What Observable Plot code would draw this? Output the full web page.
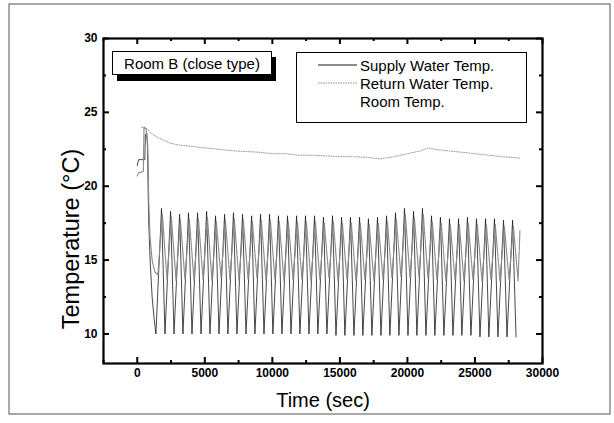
<!DOCTYPE html>
<html><head><meta charset="utf-8">
<script src="https://cdn.jsdelivr.net/npm/d3@7"></script>
<script src="https://cdn.jsdelivr.net/npm/@observablehq/plot@0.6"></script>
<style>body{margin:0;background:#fff;} #chart{position:relative;width:614px;height:423px;}</style>
</head><body><div id="chart"></div>
<script>
// ---- data ----
const xMajorTicks = [0, 5000, 10000, 15000, 20000, 25000, 30000];
const xMinorTicks = [-2500, 2500, 7500, 12500, 17500, 22500, 27500];
const yMajorTicks = [10, 15, 20, 25, 30];
const yMinorTicks = [12.5, 17.5, 22.5, 27.5];

// Supply water: start-up segment
const supplyStartT = [0, 100, 560, 600, 700, 760, 800, 850, 950, 1100, 1250];
const supplyStartV = [21.4, 21.8, 21.8, 23.5, 23.6, 22.6, 20.0, 17.5, 15.0, 12.5, 11.0];
// Supply water: cycle troughs and peaks
const supplyTroughT = [1380, 2050, 2720, 3380, 4050, 4720, 5380, 6050, 6710, 7380, 8050, 8710, 9380, 10040, 10710, 11380, 12040, 12710, 13370, 14040, 14710, 15370, 16040, 16700, 17370, 18040, 18700, 19370, 20040, 20700, 21370, 22030, 22700, 23370, 24030, 24700, 25370, 26030, 26700, 27370, 28040];
const supplyTroughV = [10.0, 10.0, 10.0, 10.0, 10.0, 10.0, 10.0, 10.0, 10.0, 10.0, 10.0, 10.0, 10.0, 10.0, 10.0, 10.0, 10.0, 10.0, 10.0, 10.0, 9.9, 9.9, 9.9, 9.9, 9.9, 9.9, 9.9, 9.9, 9.9, 9.9, 9.9, 9.9, 9.9, 9.9, 9.9, 9.9, 9.8, 9.8, 9.8, 9.8, 9.8];
const supplyPeakT = [1795, 2465, 3135, 3795, 4465, 5135, 5795, 6465, 7125, 7795, 8465, 9125, 9795, 10455, 11125, 11795, 12455, 13125, 13785, 14455, 15125, 15785, 16455, 17115, 17785, 18455, 19115, 19785, 20455, 21115, 21785, 22445, 23115, 23785, 24445, 25115, 25785, 26445, 27115, 27785];
const supplyPeakV = [18.5, 18.3, 18.1, 18.2, 18.2, 18.3, 18.0, 18.1, 18.2, 18.1, 18.0, 18.1, 18.1, 18.0, 18.0, 18.0, 18.0, 18.0, 17.9, 18.0, 17.9, 17.9, 17.9, 17.8, 17.9, 18.0, 18.2, 18.5, 18.3, 18.5, 18.0, 17.9, 17.8, 17.8, 17.9, 17.8, 17.8, 17.8, 17.7, 17.7];

// Return water: start-up segment
const returnStartT = [0, 100, 450, 500, 650, 760, 800, 850, 950, 1100, 1300];
const returnStartV = [20.7, 20.9, 21.0, 24.0, 23.9, 23.0, 22.0, 19.0, 16.5, 15.0, 14.2];
// Return water: cycle minima and maxima
const returnMinT = [1530, 2200, 2870, 3530, 4200, 4870, 5530, 6200, 6860, 7530, 8200, 8860, 9530, 10190, 10860, 11530, 12190, 12860, 13520, 14190, 14860, 15520, 16190, 16850, 17520, 18190, 18850, 19520, 20190, 20850, 21520, 22180, 22850, 23520, 24180, 24850, 25520, 26180, 26850, 27520, 28190];
const returnMinV = [14.0, 13.7, 13.6, 13.7, 13.6, 13.7, 13.6, 13.8, 13.7, 13.6, 13.7, 13.8, 13.6, 13.7, 13.6, 13.7, 13.7, 13.6, 13.7, 13.8, 13.6, 13.7, 13.6, 13.7, 13.6, 13.7, 13.8, 13.9, 13.8, 13.9, 13.8, 13.7, 13.6, 13.7, 13.6, 13.7, 13.6, 13.7, 13.6, 13.7, 13.6];
const returnMaxT = [1855, 2525, 3195, 3855, 4525, 5195, 5855, 6525, 7185, 7855, 8525, 9185, 9855, 10515, 11185, 11855, 12515, 13185, 13845, 14515, 15185, 15845, 16515, 17175, 17845, 18515, 19175, 19845, 20515, 21175, 21845, 22505, 23175, 23845, 24505, 25175, 25845, 26505, 27175, 27845, 28330];
const returnMaxV = [18.1, 17.9, 17.7, 17.8, 17.8, 17.9, 17.6, 17.7, 17.8, 17.7, 17.6, 17.7, 17.7, 17.6, 17.6, 17.6, 17.6, 17.6, 17.5, 17.6, 17.5, 17.5, 17.5, 17.4, 17.5, 17.6, 17.8, 18.1, 17.9, 18.1, 17.6, 17.5, 17.4, 17.4, 17.5, 17.4, 17.4, 17.4, 17.3, 17.3, 17.0];

// Room temperature
const roomT = [300, 700, 1000, 1500, 2000, 2500, 3000, 4000, 5000, 6000, 7000, 8000, 9000, 10000, 11000, 12000, 13000, 14000, 15000, 16000, 17000, 18000, 19000, 20000, 21000, 21500, 22000, 23000, 24000, 25000, 26000, 27000, 28400];
const roomV = [24.0, 23.9, 23.6, 23.3, 23.1, 22.9, 22.8, 22.7, 22.6, 22.5, 22.4, 22.35, 22.3, 22.2, 22.2, 22.1, 22.1, 22.05, 22.0, 22.0, 21.95, 21.85, 22.0, 22.2, 22.4, 22.6, 22.5, 22.4, 22.3, 22.2, 22.1, 22.0, 21.9];

const seriesNames = ["Supply Water Temp.", "Return Water Temp.", "Room Temp."];
const boxTitle = "Room B (close type)";

// ---- build tables ----
const zip = (ts, vs) => ts.map((t, i) => ({t, v: vs[i]}));
const byT = (a, b) => a.t - b.t;
const supplyData = [...zip(supplyStartT, supplyStartV), ...zip(supplyTroughT, supplyTroughV), ...zip(supplyPeakT, supplyPeakV)].sort(byT);
const returnData = [...zip(returnStartT, returnStartV), ...zip(returnMinT, returnMinV), ...zip(returnMaxT, returnMaxV)].sort(byT);
const roomData = zip(roomT, roomV);

const W = 614, H = 423, mL = 103, mR = 72, mT = 38, mB = 60;
const innerW = W - mL - mR, innerH = H - mT - mB;
const font = "'Liberation Sans', Arial, Helvetica, sans-serif";
const returnColor = "#8a8a8a";

const plot = Plot.plot({
  width: W, height: H,
  marginLeft: mL, marginRight: mR, marginTop: mT, marginBottom: mB,
  style: {fontFamily: font, background: "#fff", overflow: "visible", color: "#000"},
  x: {domain: [-2500, 30000]},
  y: {domain: [8, 30]},
  marks: [
    Plot.line(roomData, {x: "t", y: "v", stroke: "#9a9a9a", strokeWidth: 1, strokeDasharray: "1,1.5"}),
    Plot.line(supplyData, {x: "t", y: "v", stroke: "#1a1a1a", strokeWidth: 0.8}),
    Plot.line(returnData, {x: "t", y: "v", stroke: returnColor, strokeWidth: 1.2, strokeDasharray: "1.5,1"}),
    // inward ticks
    Plot.tickY(yMajorTicks, {y: d => d, insetRight: innerW - 6, stroke: "#000", strokeWidth: 2}),
    Plot.tickY(yMinorTicks, {y: d => d, insetRight: innerW - 3, stroke: "#000", strokeWidth: 2}),
    Plot.tickY(yMajorTicks, {y: d => d, insetLeft: innerW - 6, stroke: "#000", strokeWidth: 2}),
    Plot.tickY(yMinorTicks, {y: d => d, insetLeft: innerW - 3, stroke: "#000", strokeWidth: 2}),
    Plot.tickX(xMajorTicks, {x: d => d, insetTop: innerH - 6, stroke: "#000", strokeWidth: 2}),
    Plot.tickX(xMinorTicks, {x: d => d, insetTop: innerH - 3, stroke: "#000", strokeWidth: 2}),
    Plot.tickX(xMajorTicks, {x: d => d, insetBottom: innerH - 6, stroke: "#000", strokeWidth: 2}),
    Plot.tickX(xMinorTicks, {x: d => d, insetBottom: innerH - 3, stroke: "#000", strokeWidth: 2}),
    Plot.axisX({ticks: xMajorTicks, tickSize: 0, tickPadding: 5, tickFormat: d => String(d), fontWeight: "bold", fontSize: 12, label: null}),
    Plot.axisY({ticks: yMajorTicks, tickSize: 0, tickPadding: 6, tickFormat: d => String(d), fontWeight: "bold", fontSize: 12, label: null}),
    Plot.frame({stroke: "#000", strokeWidth: 2.2}),
    Plot.text(["Time (sec)"], {frameAnchor: "bottom", dy: 43, fontSize: 20, fill: "#000"}),
    Plot.text(["Temperature (°C)"], {frameAnchor: "left", textAnchor: "middle", dx: -32, dy: 38, rotate: -90, fontSize: 23.5, fill: "#000"})
  ]
});
document.getElementById("chart").appendChild(plot);

// ---- annotation boxes (pixel layout) ----
const svg = d3.select(plot);
svg.insert("rect", ":first-child").attr("x", 9).attr("y", 4).attr("width", 601).attr("height", 410)
  .attr("fill", "none").attr("stroke", "#555").attr("stroke-width", 1);
const g = svg.append("g").attr("font-family", font).attr("text-anchor", "start").attr("fill", "#000");
// Room B box with shadow
g.append("rect").attr("x", 117).attr("y", 57).attr("width", 159).attr("height", 24).attr("fill", "#000");
g.append("rect").attr("x", 112.5).attr("y", 51.5).attr("width", 159).attr("height", 23).attr("fill", "#fff").attr("stroke", "#000").attr("stroke-width", 1);
g.append("text").attr("x", 192).attr("y", 68.5).attr("text-anchor", "middle").attr("font-size", 15).text(boxTitle);
// legend box
g.append("rect").attr("x", 296.5).attr("y", 52.5).attr("width", 230).attr("height", 70).attr("fill", "#fff").attr("stroke", "#000").attr("stroke-width", 1);
const rows = [65, 83, 101];
const styles = [{stroke: "#1a1a1a", dash: null}, {stroke: returnColor, dash: "1.5,1"}, null];
seriesNames.forEach((name, i) => {
  const s = styles[i];
  if (s) {
    const l = g.append("line").attr("x1", 318).attr("x2", 357).attr("y1", rows[i]).attr("y2", rows[i]).attr("stroke", s.stroke).attr("stroke-width", 1);
    if (s.dash) l.attr("stroke-dasharray", s.dash);
  }
  g.append("text").attr("x", 360).attr("y", rows[i] + 5.5).attr("text-anchor", "start").attr("font-size", 15).text(name);
});
</script>
</body></html>
